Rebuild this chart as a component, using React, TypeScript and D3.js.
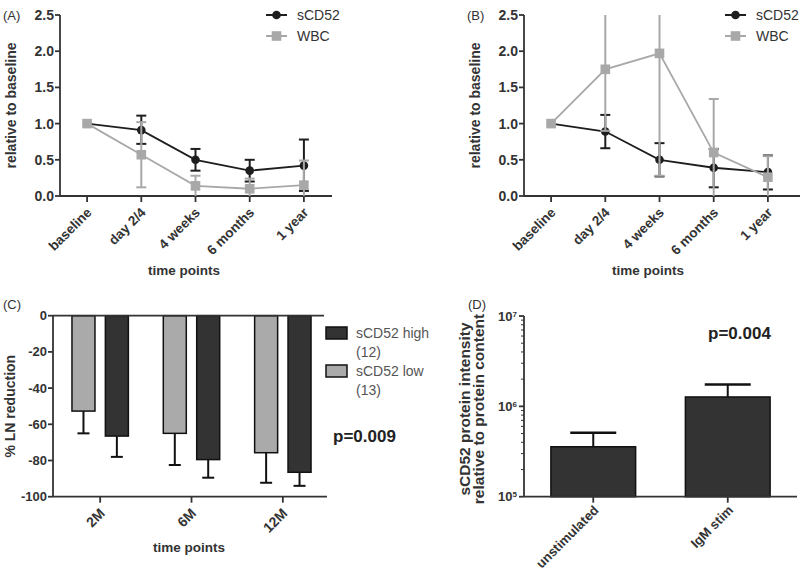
import React from "react";
import * as d3 from "d3";

// ---------- Data ----------
const timeCats = ["baseline", "day 2/4", "4 weeks", "6 months", "1 year"];

// Panel A
const aCD52Mean = [1.0, 0.91, 0.5, 0.35, 0.42];
const aCD52Up = [1.0, 1.11, 0.65, 0.5, 0.78];
const aCD52Lo = [1.0, 0.72, 0.35, 0.2, 0.07];
const aWBCMean = [1.0, 0.57, 0.14, 0.1, 0.15];
const aWBCUp = [1.0, 1.02, 0.28, 0.24, 0.49];
const aWBCLo = [1.0, 0.12, -0.2, -0.2, -0.2];

// Panel B
const bCD52Mean = [1.0, 0.89, 0.5, 0.39, 0.33];
const bCD52Up = [1.0, 1.12, 0.73, 0.65, 0.56];
const bCD52Lo = [1.0, 0.66, 0.27, 0.12, 0.09];
const bWBCMean = [1.0, 1.75, 1.97, 0.6, 0.26];
const bWBCUp = [1.0, 3.5, 3.5, 1.34, 0.55];
const bWBCLo = [1.0, 0.9, 0.28, -0.2, -0.2];

const lineTicks = [0, 0.5, 1.0, 1.5, 2.0, 2.5];

// Panel C
const cGroups = ["2M", "6M", "12M"];
const cHigh = [-66.5, -79.5, -86.5];
const cHighErr = [-78, -89.5, -94];
const cLow = [-52.7, -65, -75.7];
const cLowErr = [-65, -82.5, -92.3];
const cTicks = [0, -20, -40, -60, -80, -100];

// Panel D
const dCats = ["unstimulated", "IgM stim"];
const dMean = [3.57e5, 1.27e6];
const dErr = [5.1e5, 1.75e6];
const dTicks = [1e5, 1e6, 1e7];
const dExps = ["5", "6", "7"];

const FONT = "'Liberation Sans', Arial, Helvetica, sans-serif";
const TXT = "#333";
const BLACK = "#1e1e1e";
const GRAY = "#a8a8a8";
const DARKBAR = "#333333";
const LIGHTBAR = "#aaaaaa";
const TICK_FS = 14;

type LinePanelProps = {
  x0: number;
  label: string;
  cd52: [number[], number[], number[]];
  wbc: [number[], number[], number[]];
  legendX: number;
  axisEnd: number;
  id: string;
};

function LinePanel({ x0, label, cd52, wbc, legendX, axisEnd, id }: LinePanelProps) {
  const top = 15;
  const bottom = 196;
  const width = 271;
  const x = d3.scalePoint<string>().domain(timeCats).range([x0, x0 + width]).padding(0.5);
  const y = d3.scaleLinear().domain([0, 2.5]).range([bottom, top]);
  const line = d3
    .line<number>()
    .x((_, i) => x(timeCats[i]) as number)
    .y((d) => y(d));

  const renderSeries = (
    s: [number[], number[], number[]],
    color: string,
    marker: "circle" | "square"
  ) => {
    const [m, up, lo] = s;
    return (
      <g>
        <path d={line(m) || ""} fill="none" stroke={color} strokeWidth={1.8} />
        {m.map((v, i) => {
          const cx = x(timeCats[i]) as number;
          const yu = y(up[i]);
          const yl = y(lo[i]);
          const cw = 5;
          return (
            <g key={i} stroke={color} strokeWidth={2}>
              <line x1={cx} x2={cx} y1={yu} y2={yl} />
              {up[i] <= 2.5 && up[i] !== v && <line x1={cx - cw} x2={cx + cw} y1={yu} y2={yu} />}
              {lo[i] >= 0 && lo[i] !== v && <line x1={cx - cw} x2={cx + cw} y1={yl} y2={yl} />}
            </g>
          );
        })}
        {m.map((v, i) => {
          const cx = x(timeCats[i]) as number;
          const cy = y(v);
          return marker === "circle" ? (
            <circle key={i} cx={cx} cy={cy} r={4.3} fill={color} />
          ) : (
            <rect key={i} x={cx - 4.8} y={cy - 4.8} width={9.6} height={9.6} fill={color} />
          );
        })}
      </g>
    );
  };

  return (
    <g>
      <defs>
        <clipPath id={id}>
          <rect x={x0 - 20} y={top} width={width + 40} height={bottom - top} />
        </clipPath>
      </defs>
      <text x={x0 - 57} y={top + 5} fontSize={13} fill={TXT} fontFamily={FONT}>
        {label}
      </text>
      {/* y axis */}
      <line x1={x0} x2={x0} y1={top} y2={bottom} stroke={TXT} strokeWidth={1.8} />
      {lineTicks.map((t) => (
        <g key={t}>
          <line x1={x0 - 5} x2={x0} y1={y(t)} y2={y(t)} stroke={TXT} strokeWidth={1.8} />
          <text
            x={x0 - 6}
            y={y(t)}
            dy="0.35em"
            textAnchor="end"
            fontSize={TICK_FS}
            fontWeight="bold"
            fill={TXT}
            fontFamily={FONT}
          >
            {t.toFixed(1)}
          </text>
        </g>
      ))}
      {/* x axis */}
      <line x1={x0} x2={axisEnd} y1={bottom} y2={bottom} stroke={TXT} strokeWidth={1.8} />
      {timeCats.map((c) => {
        const cx = x(c) as number;
        return (
          <g key={c}>
            <line x1={cx} x2={cx} y1={bottom} y2={bottom + 6} stroke={TXT} strokeWidth={1.8} />
            <text
              transform={`translate(${cx + 2},${bottom + 14}) rotate(-45)`}
              textAnchor="end"
              dy="0.35em"
              fontSize={13.5}
              fontWeight="bold"
              fill={TXT}
              fontFamily={FONT}
            >
              {c}
            </text>
          </g>
        );
      })}
      <text
        x={x0 + 124}
        y={275}
        textAnchor="middle"
        fontSize={13.5}
        fontWeight="bold"
        fill={TXT}
        fontFamily={FONT}
      >
        time points
      </text>
      <text
        transform={`translate(${x0 - 44},${(top + bottom) / 2}) rotate(-90)`}
        textAnchor="middle"
        fontSize={14}
        fontWeight="bold"
        fill={TXT}
        fontFamily={FONT}
      >
        relative to baseline
      </text>
      <g clipPath={`url(#${id})`}>
        {renderSeries(cd52, BLACK, "circle")}
        {renderSeries(wbc, GRAY, "square")}
      </g>
      {/* legend */}
      <g>
        <line x1={legendX} x2={legendX + 21} y1={15} y2={15} stroke={BLACK} strokeWidth={2} />
        <circle cx={legendX + 10.5} cy={15} r={4.3} fill={BLACK} />
        <text x={legendX + 31} y={15} dy="0.35em" fontSize={14} fill={TXT} fontFamily={FONT}>
          sCD52
        </text>
        <line x1={legendX} x2={legendX + 21} y1={36} y2={36} stroke={GRAY} strokeWidth={2} />
        <rect x={legendX + 5.7} y={31.2} width={9.6} height={9.6} fill={GRAY} />
        <text x={legendX + 31} y={36} dy="0.35em" fontSize={14} fill={TXT} fontFamily={FONT}>
          WBC
        </text>
      </g>
    </g>
  );
}

function PanelC() {
  const left = 53;
  const right = 327;
  const top = 315.7;
  const bottom = 496.7;
  const x = d3.scaleBand<string>().domain(cGroups).range([left, right]);
  const y = d3.scaleLinear().domain([0, -100]).range([top, bottom]);
  const bw = 23;
  const off = 16.7;
  const bars = [
    { vals: cLow, errs: cLowErr, fill: LIGHTBAR, dx: -off },
    { vals: cHigh, errs: cHighErr, fill: DARKBAR, dx: off },
  ];
  return (
    <g>
      <text x={3} y={309} fontSize={13} fill={TXT} fontFamily={FONT}>
        (C)
      </text>
      {bars.map((b, bi) =>
        cGroups.map((g, i) => {
          const cx = (x(g) as number) + x.bandwidth() / 2 + 1.5 + b.dx;
          return (
            <g key={`${bi}-${i}`}>
              <line x1={cx} x2={cx} y1={y(b.vals[i])} y2={y(b.errs[i])} stroke="#111" strokeWidth={2} />
              <line x1={cx - 6} x2={cx + 6} y1={y(b.errs[i])} y2={y(b.errs[i])} stroke="#111" strokeWidth={2} />
              <rect
                x={cx - bw / 2}
                y={y(0)}
                width={bw}
                height={y(b.vals[i]) - y(0)}
                fill={b.fill}
                stroke="#111"
                strokeWidth={1.5}
              />
            </g>
          );
        })
      )}
      <line x1={left} x2={right - 3} y1={top} y2={top} stroke={TXT} strokeWidth={1.8} />
      <line x1={left} x2={left} y1={top} y2={bottom} stroke={TXT} strokeWidth={1.8} />
      <line x1={left} x2={right} y1={bottom} y2={bottom} stroke={TXT} strokeWidth={1.8} />
      {cTicks.map((t) => (
        <g key={t}>
          <line x1={left - 5} x2={left} y1={y(t)} y2={y(t)} stroke={TXT} strokeWidth={1.8} />
          <text
            x={left - 6}
            y={y(t)}
            dy="0.35em"
            textAnchor="end"
            fontSize={13}
            fontWeight="bold"
            fill={TXT}
            fontFamily={FONT}
          >
            {t}
          </text>
        </g>
      ))}
      {cGroups.map((g) => {
        const cx = (x(g) as number) + x.bandwidth() / 2 + 1.5;
        return (
          <g key={g}>
            <line x1={cx} x2={cx} y1={bottom} y2={bottom + 6} stroke={TXT} strokeWidth={1.8} />
            <text
              transform={`translate(${cx + 2},${bottom + 14}) rotate(-45)`}
              textAnchor="end"
              dy="0.35em"
              fontSize={TICK_FS}
              fontWeight="bold"
              fill={TXT}
              fontFamily={FONT}
            >
              {g}
            </text>
          </g>
        );
      })}
      <text
        x={189}
        y={552}
        textAnchor="middle"
        fontSize={13.5}
        fontWeight="bold"
        fill={TXT}
        fontFamily={FONT}
      >
        time points
      </text>
      <text
        transform={`translate(15,${(top + bottom) / 2}) rotate(-90)`}
        textAnchor="middle"
        fontSize={14}
        fontWeight="bold"
        fill={TXT}
        fontFamily={FONT}
      >
        % LN reduction
      </text>
      {/* legend */}
      <rect x={326} y={327} width={21} height={12} fill={DARKBAR} stroke="#111" strokeWidth={1.5} />
      <text x={356} y={333} dy="0.35em" fontSize={14} fill="#555" fontFamily={FONT}>
        sCD52 high
      </text>
      <text x={356} y={352} dy="0.35em" fontSize={14} fill="#555" fontFamily={FONT}>
        (12)
      </text>
      <rect x={326} y={365} width={21} height={12} fill={LIGHTBAR} stroke="#111" strokeWidth={1.5} />
      <text x={356} y={371} dy="0.35em" fontSize={14} fill="#555" fontFamily={FONT}>
        sCD52 low
      </text>
      <text x={356} y={390} dy="0.35em" fontSize={14} fill="#555" fontFamily={FONT}>
        (13)
      </text>
      <text x={333} y={442} fontSize={17} fontWeight="bold" fill="#222" fontFamily={FONT}>
        p=0.009
      </text>
    </g>
  );
}

function PanelD() {
  const left = 524;
  const right = 797;
  const top = 316;
  const bottom = 496.7;
  const x = d3.scaleBand<string>().domain(dCats).range([left, right]).paddingInner(0.37).paddingOuter(0.2);
  const y = d3.scaleLog().domain([1e5, 1e7]).range([bottom, top]);
  const minor: number[] = [];
  [1e5, 1e6].forEach((b) => {
    for (let k = 2; k <= 9; k++) minor.push(b * k);
  });
  return (
    <g>
      <text x={468} y={309} fontSize={13} fill={TXT} fontFamily={FONT}>
        (D)
      </text>
      {dCats.map((c, i) => {
        const bx = x(c) as number;
        const cx = bx + x.bandwidth() / 2;
        return (
          <g key={c}>
            <line x1={cx} x2={cx} y1={y(dMean[i])} y2={y(dErr[i])} stroke="#111" strokeWidth={2} />
            <line x1={cx - 23} x2={cx + 23} y1={y(dErr[i])} y2={y(dErr[i])} stroke="#111" strokeWidth={2.5} />
            <rect
              x={bx}
              y={y(dMean[i])}
              width={x.bandwidth()}
              height={bottom - y(dMean[i])}
              fill={DARKBAR}
              stroke="#111"
              strokeWidth={1.5}
            />
          </g>
        );
      })}
      <line x1={left} x2={left} y1={top} y2={bottom} stroke={TXT} strokeWidth={1.8} />
      <line x1={left} x2={right} y1={bottom} y2={bottom} stroke={TXT} strokeWidth={1.8} />
      {minor.map((t) => (
        <line key={t} x1={left - 3} x2={left} y1={y(t)} y2={y(t)} stroke={TXT} strokeWidth={1} />
      ))}
      {dTicks.map((t, i) => (
        <g key={t}>
          <line x1={left - 5} x2={left} y1={y(t)} y2={y(t)} stroke={TXT} strokeWidth={1.8} />
          <text
            x={left - 7}
            y={y(t)}
            dy="0.35em"
            textAnchor="end"
            fontSize={13}
            fontWeight="bold"
            fill={TXT}
            fontFamily={FONT}
          >
            10
            <tspan dy="-0.5em" fontSize={8}>
              {dExps[i]}
            </tspan>
          </text>
        </g>
      ))}
      {dCats.map((c) => {
        const cx = (x(c) as number) + x.bandwidth() / 2;
        return (
          <g key={c}>
            <line x1={cx} x2={cx} y1={bottom} y2={bottom + 6} stroke={TXT} strokeWidth={1.8} />
            <text
              transform={`translate(${cx + 3},${bottom + 11}) rotate(-45)`}
              textAnchor="end"
              dy="0.35em"
              fontSize={13.2}
              fontWeight="bold"
              fill={TXT}
              fontFamily={FONT}
            >
              {c}
            </text>
          </g>
        );
      })}
      <text
        transform={`translate(470,409) rotate(-90)`}
        textAnchor="middle"
        fontSize={15.5}
        fontWeight="bold"
        fill={TXT}
        fontFamily={FONT}
      >
        <tspan x={0} dy="0">
          sCD52 protein intensity
        </tspan>
        <tspan x={0} dy="14">
          relative to protein content
        </tspan>
      </text>
      <text x={708} y={339} fontSize={17} fontWeight="bold" fill="#222" fontFamily={FONT}>
        p=0.004
      </text>
    </g>
  );
}

export default function App() {
  return (
    <svg
      width={800}
      height={576}
      style={{ position: "absolute", left: 0, top: 0, background: "#fff" }}
      fontFamily={FONT}
    >
      <rect width={800} height={576} fill="#fff" />
      <LinePanel
        x0={60}
        label="(A)"
        cd52={[aCD52Mean, aCD52Up, aCD52Lo]}
        wbc={[aWBCMean, aWBCUp, aWBCLo]}
        legendX={266}
        axisEnd={332}
        id="clipA"
      />
      <LinePanel
        x0={524}
        label="(B)"
        cd52={[bCD52Mean, bCD52Up, bCD52Lo]}
        wbc={[bWBCMean, bWBCUp, bWBCLo]}
        legendX={725}
        axisEnd={800}
        id="clipB"
      />
      <PanelC />
      <PanelD />
    </svg>
  );
}
